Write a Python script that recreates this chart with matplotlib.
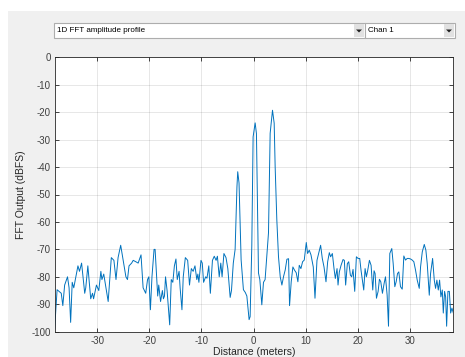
import matplotlib.pyplot as plt
from matplotlib.patches import Rectangle, Polygon

plt.rcParams['font.family'] = ['Liberation Sans', 'DejaVu Sans']
plt.rcParams['axes.unicode_minus'] = False

# range profile (distance in m, amplitude in dBFS)
dist = [-38.17, -37.7, -37.2, -36.9, -36.6, -36.25, -35.7, -35.4, -35.1, -34.8,
        -34.5, -34.1, -33.7, -33.4, -33.0, -32.4, -32.2, -31.8, -31.25, -30.9,
        -30.7, -30.15, -29.7, -29.3, -29.1, -28.75, -28.5, -27.9, -27.3, -26.8,
        -26.4, -26.0, -25.5, -25.2, -24.5, -24.2, -23.9, -23.4, -23.1, -22.6,
        -22.15, -21.6, -21.2, -20.7, -20.35, -20.1, -19.8, -19.5, -19.1, -18.9,
        -18.6, -18.4, -18.2, -17.85, -17.5, -17.3, -17.1, -16.9, -16.6, -16.1,
        -15.8, -15.5, -15.2, -14.9, -14.65, -14.3, -14.1, -13.75, -13.5, -13.1,
        -12.65, -12.3, -11.95, -11.6, -11.25, -10.9, -10.7, -10.5, -10.1, -9.85,
        -9.6, -9.2, -8.95, -8.6, -8.3, -7.9, -7.55, -7.2, -6.95, -6.6,
        -6.3, -6.05, -5.7, -5.3, -4.95, -4.5, -4.25, -3.9, -3.55, -3.2,
        -3.05, -2.8, -2.4, -1.96, -1.6, -1.3, -0.87, -0.67, -0.35, -0.1,
        0.29, 0.54, 0.73, 0.93, 1.19, 1.57, 1.89, 2.2, 2.53, 2.85,
        3.17, 3.62, 3.94, 4.13, 4.45, 4.77, 5.1, 5.42, 5.74, 6.06,
        6.38, 6.7, 6.89, 7.21, 7.53, 7.85, 8.17, 8.49, 8.75, 9.07,
        9.39, 9.71, 10.1, 10.35, 10.67, 11.0, 11.44, 11.77, 12.15, 12.46,
        12.85, 13.17, 13.5, 13.88, 14.2, 14.52, 14.77, 15.1, 15.42, 15.67,
        16.0, 16.19, 16.44, 16.77, 17.15, 17.4, 17.65, 17.98, 18.24, 18.56,
        18.81, 19.07, 19.39, 19.71, 20.03, 20.35, 20.6, 20.87, 21.12, 21.38,
        21.63, 21.89, 22.21, 22.53, 22.85, 23.1, 23.3, 23.56, 23.88, 24.13,
        24.39, 24.71, 25.03, 25.29, 25.61, 25.87, 26.12, 26.5, 26.77, 27.08,
        27.34, 27.6, 27.85, 28.17, 28.5, 28.81, 29.13, 29.46, 29.77, 30.1,
        30.42, 30.73, 31.06, 31.38, 31.77, 32.02, 32.35, 32.73, 33.04, 33.3,
        33.69, 33.94, 34.33, 34.65, 34.9, 35.15, 35.42, 35.67, 35.92, 36.19,
        36.38, 36.63, 36.83, 37.02, 37.27, 37.54, 37.79, 38.04, 38.31]
amp = [-99, -84.7, -85.5, -86, -90.5, -83, -80, -84, -96.6, -82,
       -84, -80, -76, -78, -75, -86, -84, -76, -88, -86,
       -88, -83, -85, -78, -81, -79, -82, -89, -73, -74,
       -81, -73, -68.5, -72, -80, -81, -76, -75, -74, -74.5,
       -75, -72, -84, -86, -81, -80, -92, -80, -70, -70,
       -80, -87, -83, -89, -85, -88, -87, -80, -85, -97.5,
       -81, -82, -76, -73.5, -81, -78, -84, -92, -80, -73,
       -74, -83, -77, -78, -76, -81, -79, -82, -74, -75,
       -82, -80, -80.5, -76, -86, -74, -72.5, -74, -72.5, -80,
       -75, -80, -71.5, -73, -77, -87.5, -85, -75, -70, -47.2,
       -41.7, -45.8, -73.8, -84.7, -85.7, -87, -95.6, -94.5, -68.6, -29,
       -23.9, -27.8, -52, -78.6, -81, -90.2, -82, -81, -72.5, -64,
       -27.7, -19.3, -24, -40, -59.3, -72.7, -80, -83, -79.9, -77.5,
       -73.6, -73.4, -90.5, -81.8, -76.4, -77.6, -78.5, -81.8, -75.8, -77,
       -74.5, -73.9, -67.5, -71.5, -70.3, -72, -76.4, -87.8, -74, -71.5,
       -68.5, -73.3, -76.4, -81.8, -74.5, -71.2, -72.7, -71.5, -77, -80.6,
       -77, -83, -78.2, -75.8, -73.7, -74, -83, -75.2, -74.5, -79.4,
       -80, -77.3, -85.3, -72.7, -73.3, -73.3, -77.6, -81.2, -84.8, -77,
       -80, -77.6, -74, -75.8, -84.8, -77.8, -78.8, -87.8, -85.3, -80.9,
       -81.8, -86, -82.4, -80, -86.7, -98, -71.5, -69.7, -75.2, -83.6,
       -81.8, -78.8, -78.2, -83.6, -84.5, -72.4, -73.9, -73.3, -73.3, -73.5,
       -73.9, -74.5, -77.6, -81.2, -84.2, -76.4, -70.9, -68.2, -70.3, -75.2,
       -86.7, -78.8, -73.3, -81.2, -84.2, -81.2, -84.8, -81.2, -87.3, -84.8,
       -93.2, -85.3, -87.3, -98, -85.3, -85.3, -93.2, -91.4, -93.2]

xticks = [-30, -20, -10, 0, 10, 20, 30]
yticks = [0, -10, -20, -30, -40, -50, -60, -70, -80, -90, -100]

W, H = 465, 357
fig = plt.figure(figsize=(W / 100, H / 100), dpi=100)
fig.patch.set_facecolor('white')

# gray GUI panel (behind the axes)
fig.patches.append(Rectangle((8 / W, 0), 1, 1 - 11 / H, transform=fig.transFigure,
                             facecolor='#f0f0f0', edgecolor='none', zorder=-1))


def px(x, y):
    return x / W, 1 - y / H


def dropdown(x0, x1, label):
    y0, y1 = 23, 38
    fig.patches.append(Rectangle(px(x0, y1), (x1 - x0) / W, (y1 - y0) / H,
                                 transform=fig.transFigure, facecolor='white',
                                 edgecolor='#adadad', linewidth=0.8, zorder=1))
    bx = x1 - 11
    fig.patches.append(Rectangle(px(bx, y1 - 1), 10 / W, (y1 - y0 - 2) / H,
                                 transform=fig.transFigure, facecolor='#e1e1e1',
                                 edgecolor='none', zorder=2))
    cx, cy = bx + 5, 31
    fig.patches.append(Polygon([px(cx - 3, cy - 1.5), px(cx + 3, cy - 1.5), px(cx, cy + 1.5)],
                               closed=True, transform=fig.transFigure,
                               facecolor='#202020', edgecolor='none', zorder=3))
    fig.text(*px(x0 + 3, 30.5), label, fontsize=5.8, color='black', va='center', ha='left')


dropdown(54, 365, '1D FFT amplitude profile')
dropdown(365, 455, 'Chan 1')

ax = fig.add_axes([55 / W, 1 - 331.7 / H, (453.3 - 55) / W, (331.7 - 57.3) / H])
ax.set_zorder(5)
ax.plot(dist, amp, color='#0072BD', linewidth=0.7)
ax.set_xlim(-38.1, 38.3)
ax.set_ylim(-100, 0)
ax.set_xticks(xticks)
ax.set_yticks(yticks)
ax.grid(True, color='#262626', alpha=0.13, linewidth=0.6)
ax.tick_params(direction='in', length=3, width=0.6, labelsize=7, colors='#262626',
               top=True, right=True, pad=3)
ax.tick_params(axis='both', labelcolor='#404040')
for s in ax.spines.values():
    s.set_color('#262626')
    s.set_linewidth(0.6)
ax.set_xlabel('Distance (meters)', fontsize=7.5, color='#262626', labelpad=0.5)
ax.set_ylabel('FFT Output (dBFS)', fontsize=7.5, color='#262626', labelpad=4)

fig.savefig('out.png', dpi=100)
